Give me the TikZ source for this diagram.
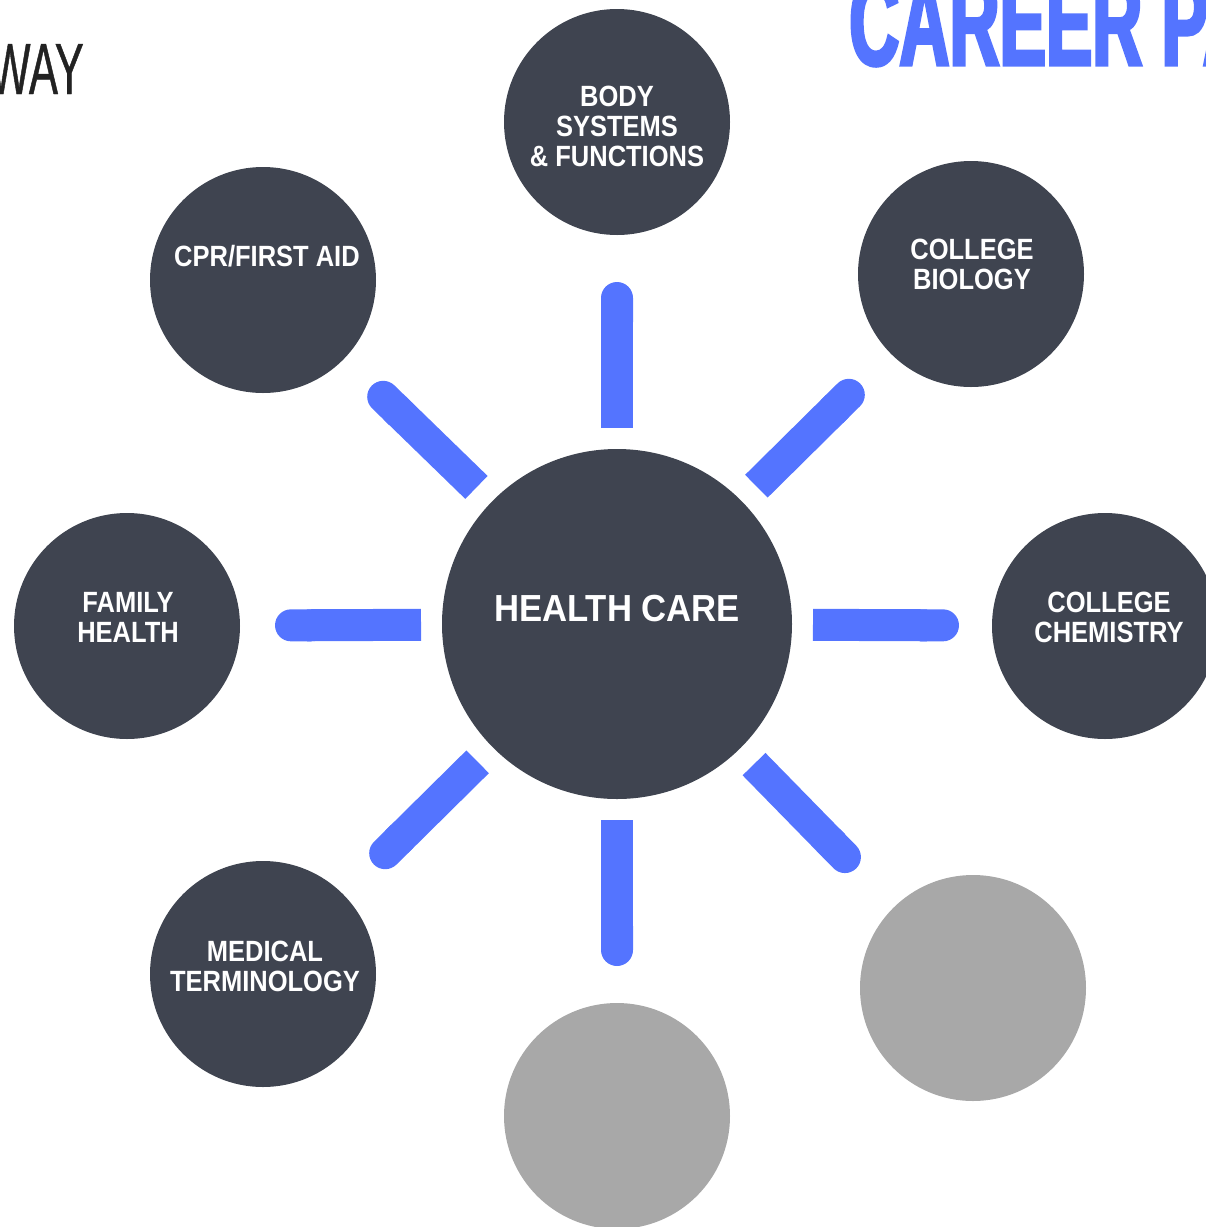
\documentclass[tikz,border=0pt]{standalone}
\usepackage{fontspec}
\usetikzlibrary{calc,arrows.meta}
\newfontfamily\lblfont[FakeStretch=0.87]{Liberation Sans}
\newfontfamily\hcfont[FakeStretch=0.92]{Liberation Sans}
\newfontfamily\wayfont[FakeStretch=0.6,FakeBold=0.6]{Liberation Sans}
\newfontfamily\careerfont[FakeStretch=0.56,FakeBold=2.5]{Liberation Sans}
\definecolor{darkslate}{HTML}{3F4450}
\definecolor{spokeblue}{HTML}{5474FF}
\definecolor{softgray}{HTML}{A8A8A8}
\definecolor{inkgray}{HTML}{222222}
\begin{document}
\begin{tikzpicture}[x=1pt,y=-1pt,
  hub/.style={circle,fill=darkslate,minimum size=350pt,inner sep=0},
  sat/.style={circle,fill=darkslate,minimum size=226pt,inner sep=0},
  blank/.style={circle,fill=softgray,minimum size=226pt,inner sep=0},
  lbl/.style={text=white,font=\lblfont\bfseries\fontsize{29.3}{30}\selectfont,align=center,inner sep=0},
  spoke/.style={draw=spokeblue,line width=32pt,-{Round Cap[]}}]
\useasboundingbox (0,0) rectangle (1206,1227);
\clip (0,0) rectangle (1206,1227);

% circles
\node[hub] (hub) at (617,624) {};
\node[sat] (top) at (617,122) {};
\node[sat] (cpr) at (263,280) {};
\node[sat] (bio) at (971,274) {};
\node[sat] (fam) at (127,626) {};
\node[sat] (chem) at (1105,626) {};
\node[sat] (med) at (263,974) {};
\node[blank] (gr) at (973,988) {};
\node[blank] (gb) at (617,1116) {};

% spokes
\foreach \s in {top,cpr,bio,fam,chem,med,gr,gb}
  \draw[spoke] ($(hub.center)!196pt!(\s.center)$) -- ($(hub.center)!342pt!(\s.center)$);

% labels
\node[text=white,font=\hcfont\bfseries\fontsize{37.7}{40}\selectfont,inner sep=0] (hubtext) at (617,608.5) {HEALTH CARE};
\node[lbl] (toptext) at (617,126) {BODY\\SYSTEMS\\\& FUNCTIONS};
\node[lbl] (cprtext) at (267,256) {CPR/FIRST AID};
\node[lbl] (biotext) at (972,264) {COLLEGE\\BIOLOGY};
\node[lbl] (famtext) at (128,617) {FAMILY\\HEALTH};
\node[lbl] (chemtext) at (1109,617) {COLLEGE\\CHEMISTRY};
\node[lbl] (medtext) at (265,966) {MEDICAL\\TERMINOLOGY};

% titles
\node[font=\wayfont\fontsize{72.6}{80}\selectfont,text=inkgray,anchor=base east,inner sep=0] (way) at (84,94) {WAY};
\node[font=\careerfont\bfseries\fontsize{124}{130}\selectfont,text=spokeblue,anchor=base west,inner sep=0] (career) at (849,65) {CAREER PA};
\end{tikzpicture}
\end{document}
